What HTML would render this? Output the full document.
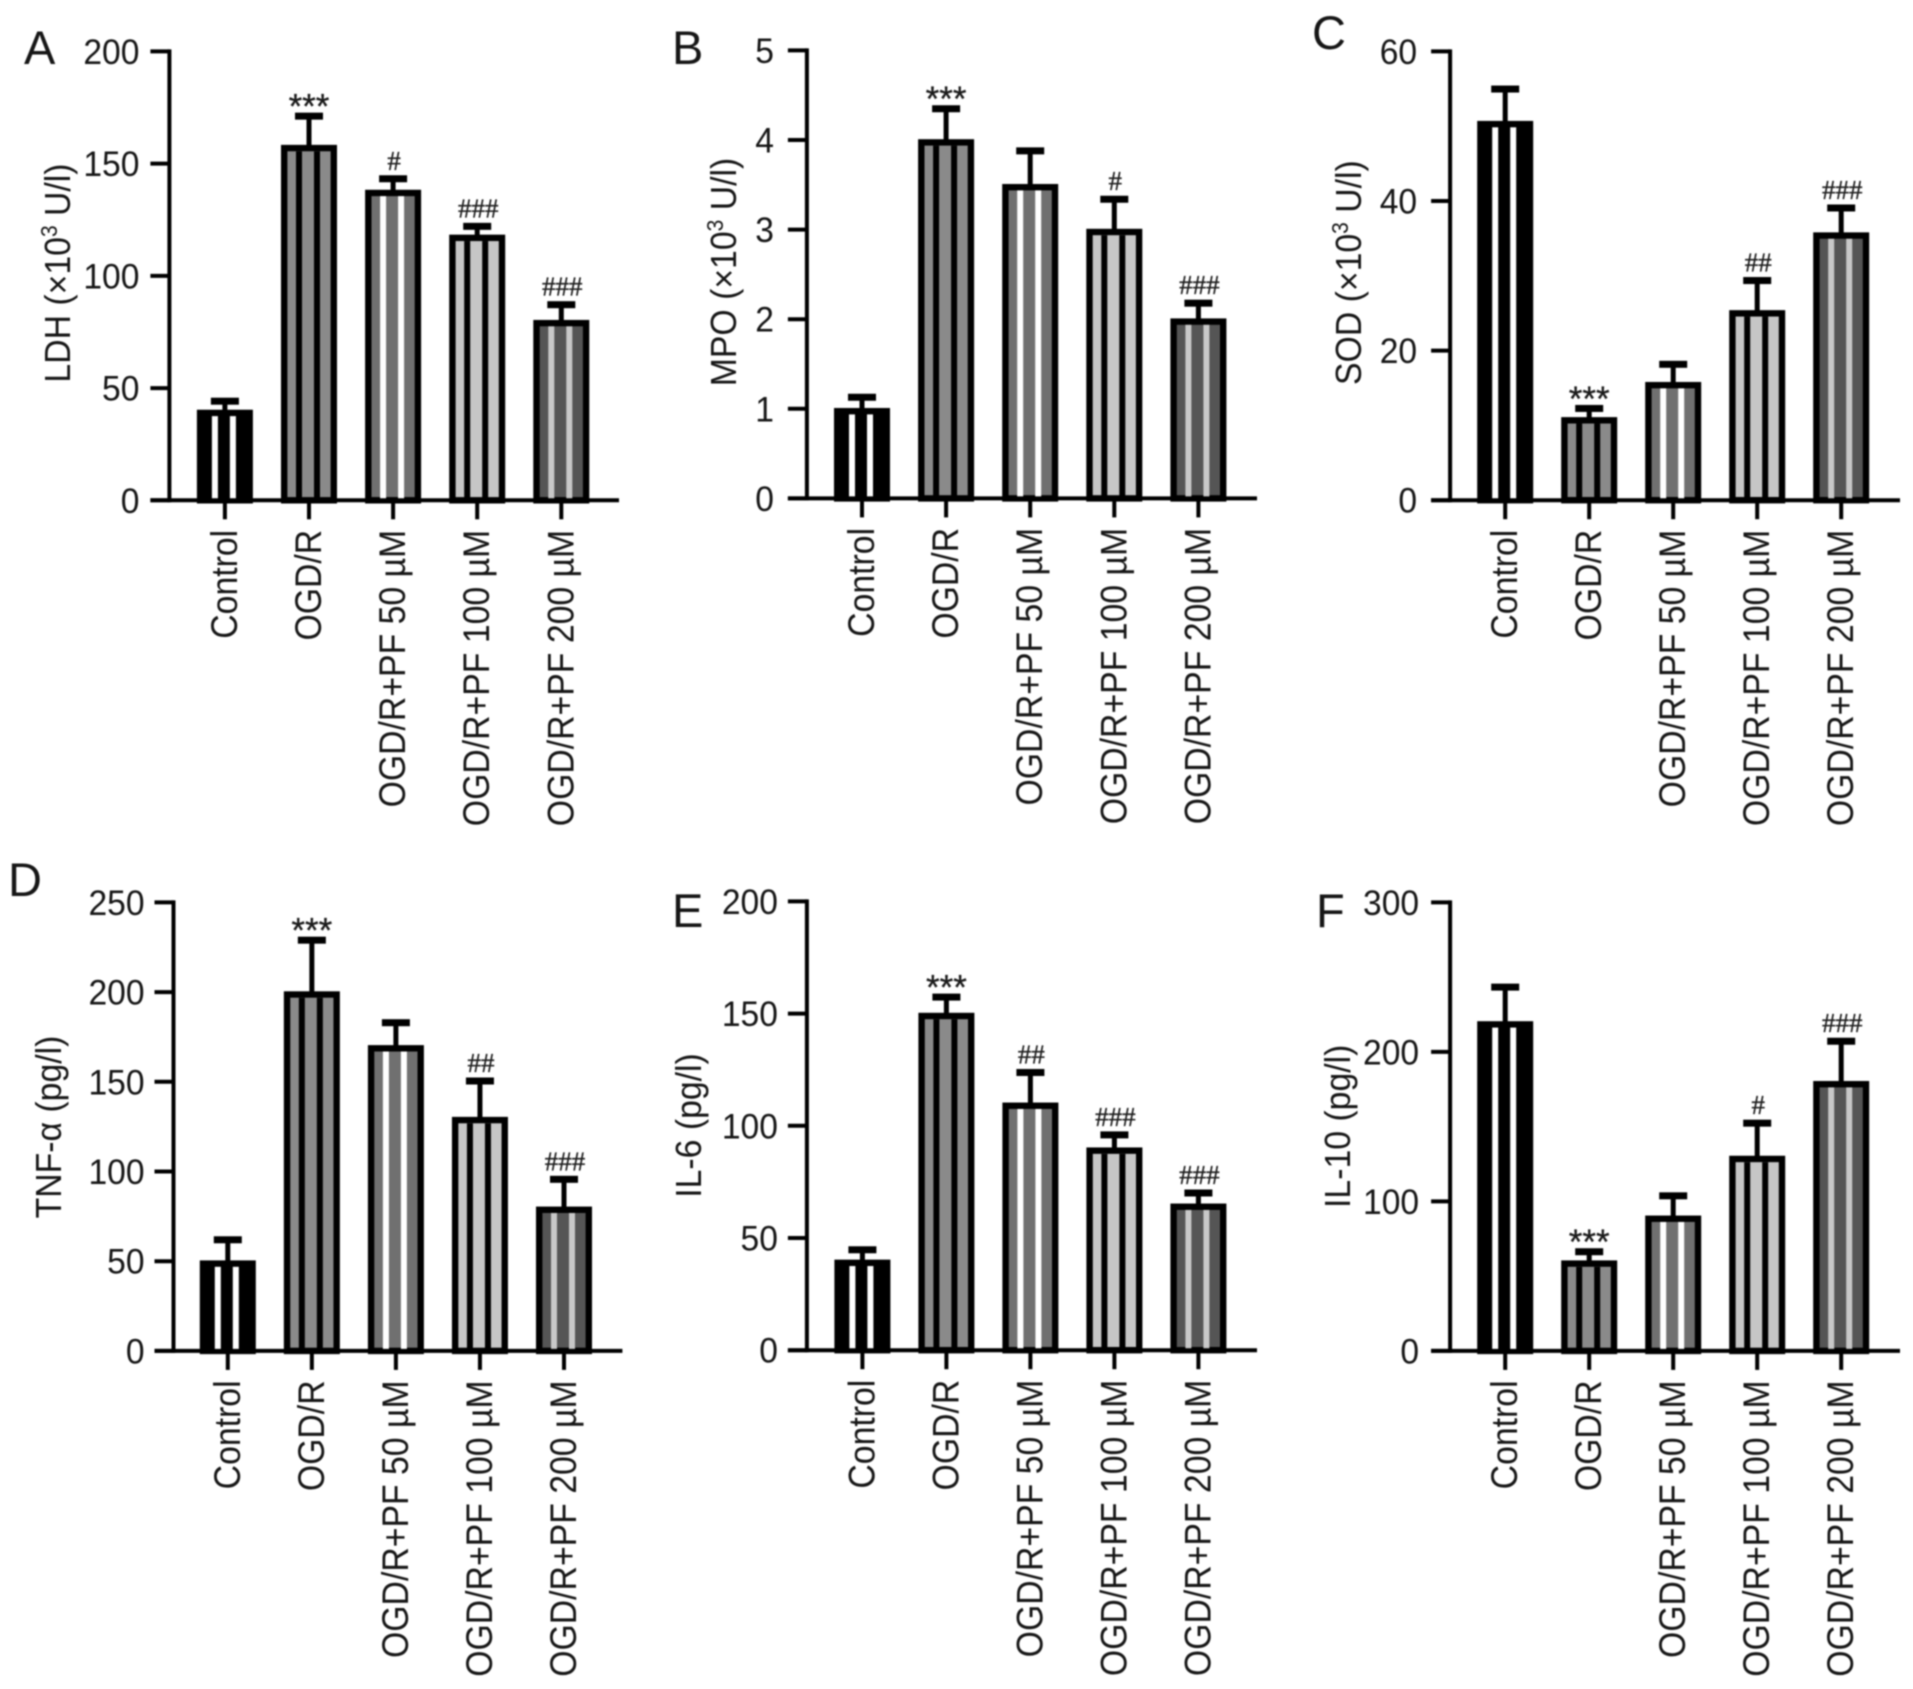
<!DOCTYPE html>
<html lang="en">
<head>
<meta charset="utf-8">
<title>OGD/R biomarker bar charts</title>
<style>
  html, body { margin: 0; padding: 0; background: #fff; }
  #figure { display: block; width: 1913px; height: 1689px; filter: blur(0.7px); }
  text { font-family: "Liberation Sans", Arial, sans-serif; fill: #161616; }
  .mark-hash { font-family: "Liberation Serif", serif; font-size: 27px; fill: #1c1c1c; stroke: #1c1c1c; stroke-width: 0.35px; }
  .mark-star { font-size: 35px; fill: #1a1a1a; stroke: #1a1a1a; stroke-width: 0.3px; }
</style>
</head>
<body>
<svg id="figure" xmlns="http://www.w3.org/2000/svg" width="1913" height="1689" viewBox="0 0 1913 1689">
  <rect width="1913" height="1689" fill="#fff"/>
</svg>
<script>
// ---------- Shared categories ----------
const categories = ['Control', 'OGD/R', 'OGD/R+PF 50 µM', 'OGD/R+PF 100 µM', 'OGD/R+PF 200 µM'];

// ---------- Panel A: LDH ----------
const ldhTicks = [0, 50, 100, 150, 200];
const ldhValues = [40, 158, 138, 118, 80];
const ldhErrorTops = [44.6, 171.6, 143.7, 122.5, 87.6];
const ldhMarks = ['', '***', '#', '###', '###'];

// ---------- Panel B: MPO ----------
const mpoTicks = [0, 1, 2, 3, 4, 5];
const mpoValues = [1, 4, 3.5, 3, 2];
const mpoErrorTops = [1.14, 4.36, 3.89, 3.35, 2.19];
const mpoMarks = ['', '***', '', '#', '###'];

// ---------- Panel C: SOD ----------
const sodTicks = [0, 20, 40, 60];
const sodValues = [50.6, 11, 15.7, 25.3, 35.7];
const sodErrorTops = [55.1, 12.4, 18.3, 29.5, 39.2];
const sodMarks = ['', '***', '', '##', '###'];

// ---------- Panel D: TNF-alpha ----------
const tnfTicks = [0, 50, 100, 150, 200, 250];
const tnfValues = [50, 200, 170, 130, 80];
const tnfErrorTops = [62.5, 229.5, 183.5, 151, 96.2];
const tnfMarks = ['', '***', '', '##', '###'];

// ---------- Panel E: IL-6 ----------
const il6Ticks = [0, 50, 100, 150, 200];
const il6Values = [40, 150, 110, 90, 65];
const il6ErrorTops = [45.2, 157.8, 124.2, 96.4, 70.5];
const il6Marks = ['', '***', '##', '###', '###'];

// ---------- Panel F: IL-10 ----------
const il10Ticks = [0, 100, 200, 300];
const il10Values = [220, 60, 90, 130, 180];
const il10ErrorTops = [244, 67, 104.4, 153, 207.8];
const il10Marks = ['', '***', '', '#', '###'];

// ---------- Bar styling per group (base colour, stripe colour) ----------
const barBaseColors = ['#000000', '#8a8a8a', '#707070', '#c6c6c6', '#555555'];
const barStripeColors = ['#ffffff', '#000000', '#ffffff', '#000000', '#c8c8c8'];

const SVG_NS = 'http://www.w3.org/2000/svg';
const figure = document.getElementById('figure');

function make(parent, tag, attrs) {
  const el = document.createElementNS(SVG_NS, tag);
  for (const k in attrs) el.setAttribute(k, attrs[k]);
  parent.appendChild(el);
  return el;
}

function drawPanel(p) {
  const scaleY = v => p.y0 - (v / p.max) * (p.y0 - p.yTop);
  const scaleX = i => p.x1 + i * p.step;

  const g = make(figure, 'g', {});
  
  

  const letter = make(g, 'text', { x: p.letterX, y: p.letterY, 'font-size': 47 });
  letter.textContent = p.letter;
  
  

  // bars and error bars
  p.values.forEach((v, i) => {
    const cx = scaleX(i);
    const barW = 56, border = 6.4, stripeW = 6;
    const top = scaleY(v) - 0.8;
    const errTop = scaleY(p.errors[i]);

    const stem = make(g, 'rect', { x: cx - 2.5, y: errTop, width: 5, height: top - errTop + 2, fill: '#000' });
    
    

    const cap = make(g, 'rect', { x: cx - 14, y: errTop - 2.5, width: 28, height: 7, fill: '#000' });
    
    

    const bar = make(g, 'rect', {
      x: cx - barW / 2 + border / 2, y: top + border / 2,
      width: barW - border, height: p.y0 - top - border / 2,
      fill: barBaseColors[i], stroke: '#000', 'stroke-width': border
    });
    
    

    [-10, 8].forEach(offset => {
      const stripe = make(g, 'rect', {
        x: cx + offset - stripeW / 2, y: top + border,
        width: stripeW, height: p.y0 - top - border,
        fill: barStripeColors[i]
      });
      
      
    });

    const m = p.marks[i];
    if (m) {
      const isStar = m[0] === '*';
      const mark = make(g, 'text', {
        x: cx + (isStar ? 0 : 1), y: isStar ? errTop + 3.5 : errTop - 8,
        'text-anchor': 'middle', 'class': isStar ? 'mark-star' : 'mark-hash'
      });
      mark.textContent = m;
      
      
    }

    const xTick = make(g, 'line', { x1: cx, x2: cx, y1: p.y0, y2: p.y0 + 19, stroke: '#000', 'stroke-width': 4 });
    
    

    const xLabel = make(g, 'text', {
      transform: 'translate(' + (cx + 12) + ',' + (p.y0 + 29.5) + ') rotate(-90) scale(1,1.1)',
      'text-anchor': 'end', 'font-size': 33.8
    });
    xLabel.textContent = categories[i];
    
    
  });

  // axes
  const yAxis = make(g, 'line', { x1: p.axisX, x2: p.axisX, y1: p.yTop - 2, y2: p.y0 + 2, stroke: '#000', 'stroke-width': 4 });
  
  

  const xAxis = make(g, 'line', { x1: p.axisX - 19, x2: p.xEnd, y1: p.y0, y2: p.y0, stroke: '#000', 'stroke-width': 4 });
  
  

  p.ticks.forEach(t => {
    const y = scaleY(t);
    const tick = make(g, 'line', { x1: p.axisX - 19, x2: p.axisX, y1: y, y2: y, stroke: '#000', 'stroke-width': 4 });
    
    

    const label = make(g, 'text', {
      transform: 'translate(' + (p.axisX - p.labelGap) + ',' + (y + 12.5) + ') scale(1,1.06)',
      'text-anchor': 'end', 'font-size': 33.6
    });
    label.textContent = t;
    
    
  });

  // y title
  const title = make(g, 'text', {
    transform: 'translate(' + p.titleX + ',' + p.titleY + ') rotate(-90) scale(1,1.08)',
    'text-anchor': 'middle', 'font-size': 33.8
  });
  
  
  title.appendChild(document.createTextNode(p.title));
  if (p.sup) {
    const sup = make(title, 'tspan', { dy: -12, 'font-size': 21 });
    sup.textContent = p.sup;
    const rest = make(title, 'tspan', { dy: 12 });
    rest.textContent = p.titleEnd;
  }
}

drawPanel({ id: 'a-ldh', letter: 'A', letterX: 24, letterY: 64,
  title: 'LDH (×10', sup: '3', titleEnd: ' U/l)', titleX: 70, titleY: 273,
  ticks: ldhTicks, values: ldhValues, errors: ldhErrorTops, marks: ldhMarks, max: 200,
  axisX: 169.4, xEnd: 619, y0: 500.3, yTop: 51.4, x1: 224.9, step: 84.1, labelGap: 30 });

drawPanel({ id: 'b-mpo', letter: 'B', letterX: 672, letterY: 64,
  title: 'MPO (×10', sup: '3', titleEnd: ' U/l)', titleX: 736, titleY: 272,
  ticks: mpoTicks, values: mpoValues, errors: mpoErrorTops, marks: mpoMarks, max: 5,
  axisX: 806.9, xEnd: 1257, y0: 498.4, yTop: 50.4, x1: 862, step: 84.1, labelGap: 33 });

drawPanel({ id: 'c-sod', letter: 'C', letterX: 1312, letterY: 49,
  title: 'SOD (×10', sup: '3', titleEnd: ' U/l)', titleX: 1361, titleY: 272.6,
  ticks: sodTicks, values: sodValues, errors: sodErrorTops, marks: sodMarks, max: 60,
  axisX: 1450.1, xEnd: 1900, y0: 500.2, yTop: 51.4, x1: 1505.2, step: 84, labelGap: 33 });

drawPanel({ id: 'd-tnf', letter: 'D', letterX: 8, letterY: 896,
  title: 'TNF-α (pg/l)', titleX: 61, titleY: 1127,
  ticks: tnfTicks, values: tnfValues, errors: tnfErrorTops, marks: tnfMarks, max: 250,
  axisX: 173.5, xEnd: 622.4, y0: 1350.9, yTop: 902.4, x1: 227.8, step: 84.05, labelGap: 29 });

drawPanel({ id: 'e-il6', letter: 'E', letterX: 672, letterY: 927,
  title: 'IL-6 (pg/l)', titleX: 701, titleY: 1125.5,
  ticks: il6Ticks, values: il6Values, errors: il6ErrorTops, marks: il6Marks, max: 200,
  axisX: 806.9, xEnd: 1257, y0: 1350.2, yTop: 901.4, x1: 862.4, step: 84, labelGap: 29 });

drawPanel({ id: 'f-il10', letter: 'F', letterX: 1316, letterY: 927,
  title: 'IL-10 (pg/l)', titleX: 1350, titleY: 1126.3,
  ticks: il10Ticks, values: il10Values, errors: il10ErrorTops, marks: il10Marks, max: 300,
  axisX: 1450.1, xEnd: 1900, y0: 1350.9, yTop: 902.4, x1: 1505.2, step: 84, labelGap: 31 });
</script>
</body>
</html>
